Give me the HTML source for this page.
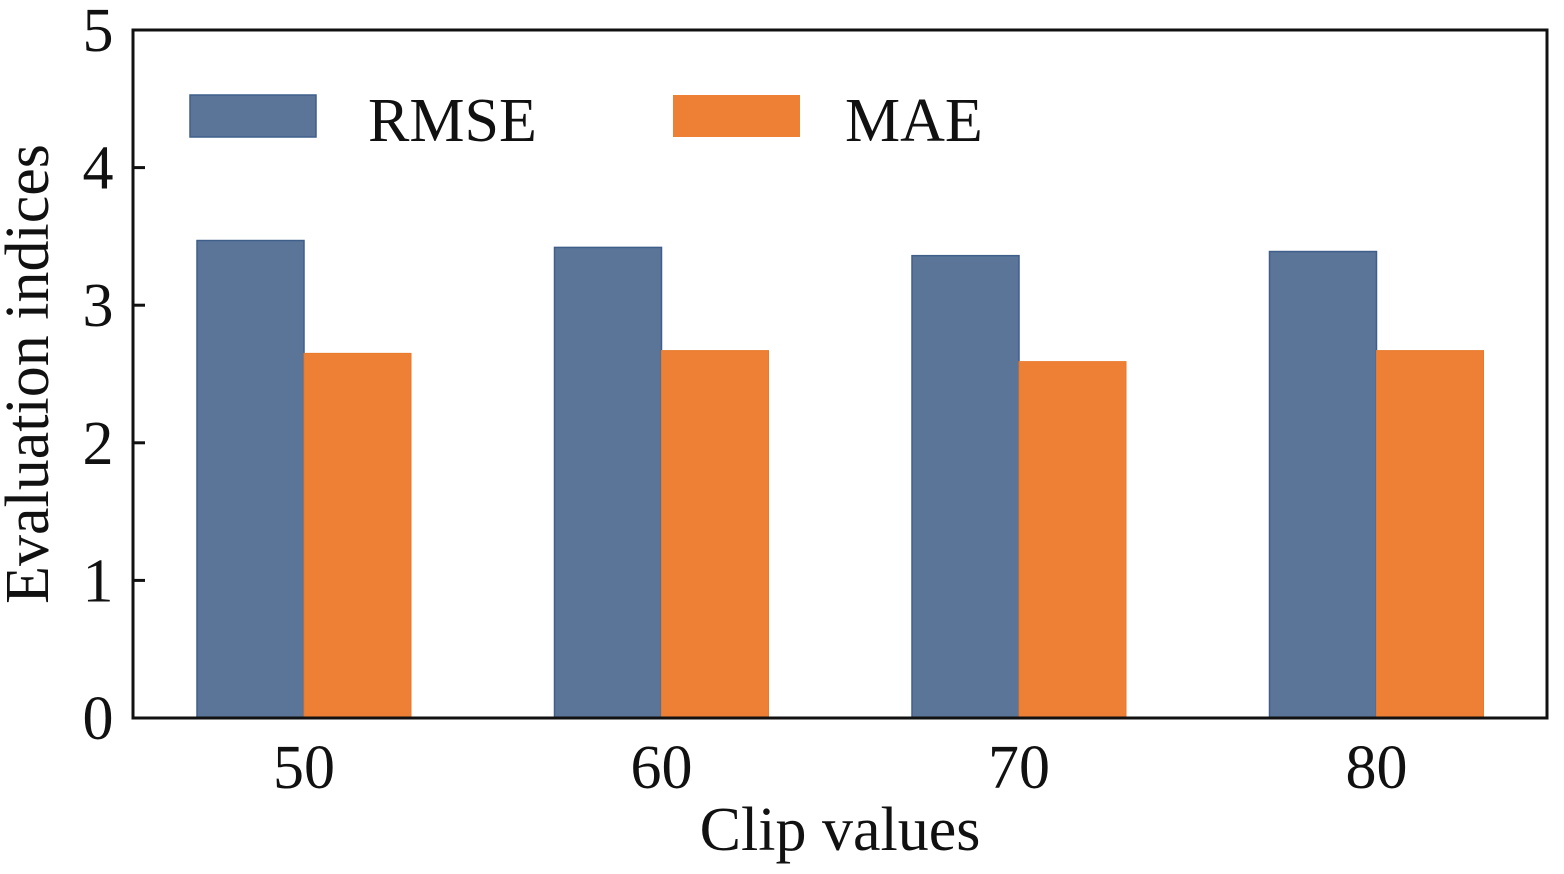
<!DOCTYPE html>
<html><head><meta charset="utf-8"><style>
body{margin:0;background:#fff}
svg{display:block;font-family:"Liberation Serif",serif}
</style></head><body>
<svg id="chart" width="1564" height="874">
<g id="plot"></g>
</svg>
<script>
const categories=["50","60","70","80"];
const rmse=[3.47,3.42,3.36,3.39];
const mae=[2.65,2.67,2.59,2.67];
const yTicks=[0,1,2,3,4,5];
const NS="http://www.w3.org/2000/svg";
const L=133,R=1547,T=30,B=718;
const y=v=>B-(v/5)*(B-T);
const xc=i=>304+357.5*i;
const bw=107;
const g=document.getElementById('plot');
function mk(tag,attrs,parent){const e=document.createElementNS(NS,tag);for(const k in attrs)e.setAttribute(k,attrs[k]);(parent||g).appendChild(e);return e;}
categories.forEach((c,i)=>{
 const b1=mk('rect',{x:xc(i)-bw,y:y(rmse[i]),width:bw,height:B-y(rmse[i]),fill:'#5b7599',stroke:'#3f5f8a','stroke-width':1.5});
 
 
 const b2=mk('rect',{x:xc(i),y:y(mae[i]),width:bw,height:B-y(mae[i]),fill:'#ee8035',stroke:'#e87a2c','stroke-width':1});
 
 
 const t=mk('text',{x:xc(i),y:788,'font-size':62,'text-anchor':'middle',fill:'#111'});
 t.textContent=c;
 
 
});
yTicks.forEach(v=>{
 const t=mk('text',{x:98,y:y(v)+21,'font-size':62,'text-anchor':'middle',fill:'#111'});
 t.textContent=v;
 
 
 const tk=mk('line',{x1:L,x2:L+12,y1:y(v),y2:y(v),stroke:'#111','stroke-width':3});
 
 
});
const frame=mk('rect',{x:L,y:T,width:R-L,height:B-T,fill:'none',stroke:'#111','stroke-width':3});


const xt=mk('text',{x:840,y:850,'font-size':62,'text-anchor':'middle',fill:'#111'});
xt.textContent='Clip values';


const yt=mk('text',{x:48,y:374,'font-size':62,'text-anchor':'middle',fill:'#111',transform:'rotate(-90 48 374)'});
yt.textContent='Evaluation indices';


const l1=mk('rect',{x:190,y:95,width:126,height:42,fill:'#5b7599',stroke:'#3f5f8a','stroke-width':1.5});


const lt1=mk('text',{x:368,y:141,'font-size':62,fill:'#111'});
lt1.textContent='RMSE';


const l2=mk('rect',{x:673,y:95,width:127,height:42,fill:'#ee8035'});


const lt2=mk('text',{x:845,y:141,'font-size':62,fill:'#111'});
lt2.textContent='MAE';


</script>
</body></html>
